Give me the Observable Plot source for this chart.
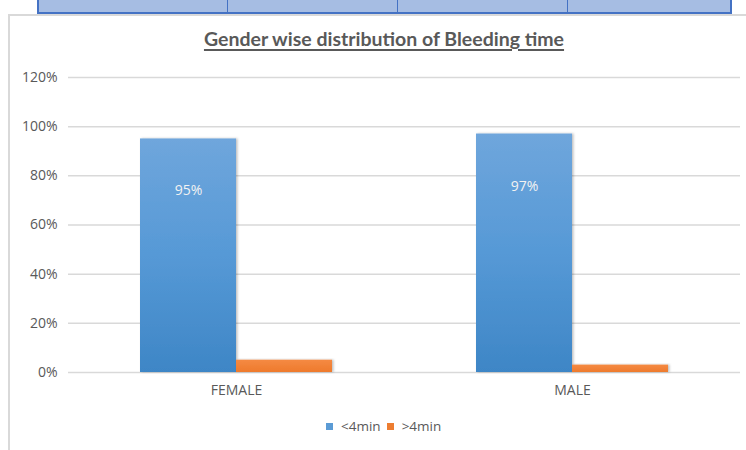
<!DOCTYPE html>
<html>
<head>
<meta charset="utf-8">
<script src="https://cdn.jsdelivr.net/npm/d3@7"></script>
<script src="https://cdn.jsdelivr.net/npm/@observablehq/plot@0.6"></script>
<style>
  html, body { margin: 0; padding: 0; background: #fff; }
  body { width: 746px; height: 450px; position: relative; overflow: hidden; font-family: "Open Sans", sans-serif; }
  #strip { position: absolute; left: 37px; top: -3px; width: 691px; height: 13px; border: 2px solid #4472c4; background: #a6bde3; display: flex; }
  #strip div { height: 100%; border-right: 1.5px solid #4472c4; box-sizing: border-box; }
  #frame { position: absolute; left: 8px; top: 14px; width: 746px; height: 450px; border-left: 2px solid #d9d9d9; border-top: 2px solid #d9d9d9; box-sizing: border-box; }
  #title { position: absolute; left: 0; top: 27px; width: 768px; text-align: center; font-family: Lato, sans-serif; font-weight: 700; font-size: 19.5px; color: #595959; text-decoration: underline; text-decoration-thickness: 1.5px; text-underline-offset: 3px; }
  #chart { position: absolute; left: 0; top: 60px; }
  #legend { position: absolute; left: 326px; top: 417px; display: flex; align-items: center; font-size: 13.5px; color: #595959; }
  #legend .sw { width: 7px; height: 7px; margin-right: 8px; }
  #legend .item { display: flex; align-items: center; margin-right: 6px; }
</style>
</head>
<body>
<div id="strip"><div style="width:189px"></div><div style="width:170px"></div><div style="width:170px"></div><div style="flex:1;border-right:none"></div></div>
<div id="frame"></div>
<div id="title">Gender wise distribution of Bleeding time</div>
<div id="chart"></div>
<div id="legend"></div>
<script>
const genders = ["FEMALE", "MALE"];
const series = ["<4min", ">4min"];
const below4min = [0.95, 0.97];
const above4min = [0.05, 0.03];
const yTicks = [0, 0.2, 0.4, 0.6, 0.8, 1.0, 1.2];
const seriesColors = ["#5b9bd5", "#ed7d31"];

const data = genders.flatMap((g, i) => [
  {gender: g, series: series[0], value: below4min[i]},
  {gender: g, series: series[1], value: above4min[i]}
]);
const pct = d3.format(".0%");

const chart = Plot.plot({
  width: 746,
  height: 360,
  marginLeft: 68,
  marginRight: 6,
  marginTop: 17,
  marginBottom: 48,
  style: {fontFamily: "'Open Sans', sans-serif", fontSize: "14px", color: "#595959", background: "transparent"},
  fx: {domain: genders, padding: 0, label: null},
  x: {domain: series, paddingInner: 0, paddingOuter: 0.74, axis: null},
  y: {domain: [0, 1.2], label: null},
  color: {domain: series, range: ["url(#gBlue)", "url(#gOrange)"]},
  marks: [
    Plot.gridY(yTicks, {stroke: "#d9d9d9", strokeOpacity: 1, strokeWidth: 1.5}),
    Plot.axisY({ticks: yTicks, tickFormat: pct, tickSize: 0, tickPadding: 11, label: null, fill: "#595959", fontSize: 14}),
    Plot.axisFx({anchor: "bottom", tickSize: 0, tickPadding: 13, label: null, fill: "#595959", fontSize: 14}),
    Plot.barY(data, {fx: "gender", x: "series", y: "value", fill: "series"}),
    Plot.text(data.filter(d => d.series === series[0]), {
      fx: "gender", x: "series", y: "value", text: d => pct(d.value),
      dy: 52, fill: "#f2f2f2", fontSize: 14
    })
  ]
});

const defs = d3.select(chart).insert("defs", ":first-child");
defs.html(`
  <linearGradient id="gBlue" x1="0" y1="0" x2="0" y2="1">
    <stop offset="0" stop-color="#6fa6dc"/>
    <stop offset="0.5" stop-color="#5699d6"/>
    <stop offset="1" stop-color="#3e86c6"/>
  </linearGradient>
  <linearGradient id="gOrange" x1="0" y1="0" x2="0" y2="1">
    <stop offset="0" stop-color="#f58a43"/>
    <stop offset="1" stop-color="#ee7a2c"/>
  </linearGradient>
  <filter id="shadow" x="-10%" y="-10%" width="130%" height="130%">
    <feDropShadow dx="1.5" dy="0" stdDeviation="1.2" flood-color="#000" flood-opacity="0.25"/>
  </filter>
`);
d3.select(chart).selectAll("rect").attr("filter", "url(#shadow)");

document.getElementById("chart").appendChild(chart);

const legend = d3.select("#legend");
series.forEach((s, i) => {
  const item = legend.append("div").attr("class", "item");
  item.append("div").attr("class", "sw").style("background", seriesColors[i]);
  item.append("span").text(s);
});
</script>
</body>
</html>
